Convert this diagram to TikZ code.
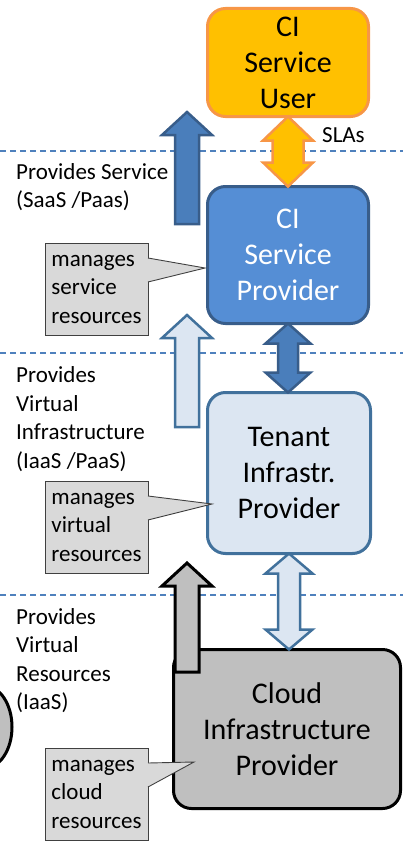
\documentclass[tikz,border=0pt]{standalone}
\usepackage{fontspec}
\setmainfont{Carlito}
\usetikzlibrary{calc}

\definecolor{userfill}{HTML}{FFC000}
\definecolor{userline}{HTML}{F79646}
\definecolor{cspfill}{HTML}{558ED5}
\definecolor{bluefill}{HTML}{4A7EBB}
\definecolor{blueline}{HTML}{385D8A}
\definecolor{paleblue}{HTML}{DCE6F2}
\definecolor{paleline}{HTML}{41719C}
\definecolor{cloudfill}{HTML}{BFBFBF}
\definecolor{notefill}{HTML}{D9D9D9}
\definecolor{noteline}{HTML}{404040}
\definecolor{levelline}{HTML}{4F81BD}

% vertical double block arrow between two anchors:
% style, upper anchor, lower anchor, head half width, shaft half width, head length
\newcommand\dblblock[6]{%
  \draw[#1] let \p1=(#2), \p2=(#3) in
    (\x1,\y1) -- (\x1+#4pt,\y1-#6pt) -- (\x1+#5pt,\y1-#6pt) -- (\x1+#5pt,\y2+#6pt)
    -- (\x1+#4pt,\y2+#6pt) -- (\x1,\y2) -- (\x1-#4pt,\y2+#6pt) -- (\x1-#5pt,\y2+#6pt)
    -- (\x1-#5pt,\y1-#6pt) -- (\x1-#4pt,\y1-#6pt) -- cycle;}

% upward block arrow: style, tip, bottom end
\newcommand\upblock[3]{%
  \draw[#1] let \p1=(#2), \p2=(#3) in
    (\x1,\y1) -- (\x1+25pt,\y1-23pt) -- (\x1+12pt,\y1-23pt) -- (\x1+12pt,\y2)
    -- (\x1-12pt,\y2) -- (\x1-12pt,\y1-23pt) -- (\x1-25pt,\y1-23pt) -- cycle;}

% pointer of a callout note towards a tip coordinate
\newcommand\notepointer[2]{%
  \fill[notefill] ($(#1.east)+(-1,-31)$) -- (#2) -- ($(#1.east)+(-1,-7)$) -- cycle;
  \draw[noteedge] ($(#1.east)+(0,-31)$) -- (#2) -- ($(#1.east)+(0,-7)$);}

\begin{document}
\begin{tikzpicture}[x=1pt,y=-1pt,
  box/.style={rounded corners=18pt, line width=3pt, outer sep=0pt, inner sep=0pt,
    align=center, font=\fontsize{30}{36}\selectfont},
  level/.style={draw=levelline, line width=1.2pt, dash pattern=on 6pt off 4pt},
  noteedge/.style={draw=noteline, line width=0.9pt},
  note/.style={noteedge, fill=notefill, minimum width=103pt, minimum height=92pt,
    inner sep=0pt, outer sep=0pt, align=left, font=\fontsize{23}{28.5}\selectfont},
  lbl/.style={inner sep=0pt, anchor=west, align=left, font=\fontsize{23}{28.5}\selectfont},
  arrowline/.style={line width=2.5pt, line join=miter}]
\useasboundingbox (0,0) rectangle (403,843);

% level separators
\draw[level] (0,151) -- (403,151);
\draw[level] (0,353) -- (403,353);
\draw[level] (0,595) -- (403,595);

% neighbouring element at the left edge
\draw[fill=cloudfill, line width=3pt] (-15,727) ellipse [x radius=27, y radius=41];

% actors
\node[box, fill=userfill, draw=userline, minimum width=161pt, minimum height=108pt]
  (user) at (288,62.5) {CI\\Service\\User};
\node[box, fill=cspfill, draw=blueline, text=white, minimum width=161pt, minimum height=137pt]
  (csp) at (288,255) {CI\\Service\\Provider};
\node[box, fill=paleblue, draw=paleline, minimum width=163pt, minimum height=161pt]
  (tenant) at (289,473) {Tenant\\Infrastr.\\Provider};
\node[box, fill=cloudfill, draw=black, minimum width=227pt, minimum height=159pt]
  (cloud) at (287,729) {Cloud\\Infrastructure\\Provider};

% relations between actors
\dblblock{arrowline, fill=userfill, draw=userline}{user.south}{csp.north}{25}{15.5}{24}
\dblblock{arrowline, fill=bluefill, draw=blueline}{csp.south}{tenant.north}{22.5}{10}{20}
\dblblock{arrowline, fill=paleblue, draw=paleline}{tenant.south}{cloud.north}{23.5}{11}{20}

% provided services per level
\coordinate (up1tip) at (187,112);  \coordinate (up1end) at (187,224);
\coordinate (up2tip) at (187,315);  \coordinate (up2end) at (187,427);
\coordinate (up3tip) at (187,563);  \coordinate (up3end) at (187,672);
\upblock{arrowline, fill=bluefill, draw=blueline}{up1tip}{up1end}
\upblock{arrowline, fill=paleblue, draw=paleline}{up2tip}{up2end}
\upblock{line width=3pt, line join=miter, fill=cloudfill, draw=black}{up3tip}{up3end}

% callout notes
\coordinate (t1) at (205,268);
\coordinate (t2) at (212,504);
\coordinate (t3) at (194,762);
\node[note] (n1) at (96.5,289) {manages\\service\\resources};
\notepointer{n1}{t1}
\node[note] (n2) at (96.5,527) {manages\\virtual\\resources};
\notepointer{n2}{t2}
\node[note] (n3) at (96.5,794) {manages\\cloud\\resources};
\notepointer{n3}{t3}

% level labels
\node[lbl] (l1) at (16,187) {Provides Service\\(SaaS /Paas)};
\node[lbl] (l2) at (16,419) {Provides\\Virtual\\Infrastructure\\(IaaS /PaaS)};
\node[lbl] (l3) at (16,660.5) {Provides\\Virtual\\Resources\\(IaaS)};
\node[lbl] (sla) at (322,135) {SLAs};
\end{tikzpicture}
\end{document}
